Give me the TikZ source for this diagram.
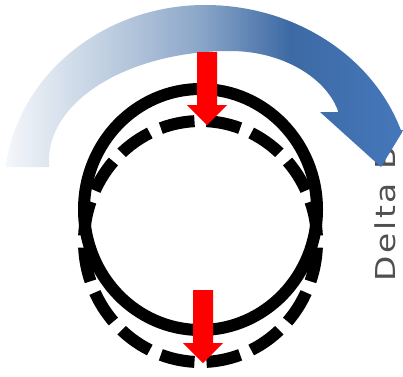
\documentclass[tikz,border=0pt]{standalone}
\usepackage{fontspec}
\newfontfamily\deltafont{DejaVu Sans}[FakeStretch=1.2, LetterSpace=10]
\definecolor{arcA}{HTML}{F7F9FC}
\definecolor{arcB}{HTML}{B3C5DB}
\definecolor{arcC}{HTML}{8BA6C8}
\definecolor{arcD}{HTML}{3D6AA4}
\definecolor{arcE}{HTML}{4679BE}
\definecolor{textgray}{HTML}{505050}
\pgfdeclarehorizontalshading{bluearc}{100bp}{color(0bp)=(arcA); color(25bp)=(arcA); color(40.5bp)=(arcB); color(48.8bp)=(arcC); color(59.5bp)=(arcD); color(75bp)=(arcE); color(100bp)=(arcE)}
\begin{document}
\begin{tikzpicture}[x=1pt,y=-1pt,
  ring/.style={line width=12pt, draw=black},
  redarrow/.style={fill=red, draw=none},
  lbl/.style={rotate=90, anchor=base west, inner sep=0pt, text=textgray,
              font=\deltafont\fontsize{27.4}{30}\selectfont}]
\useasboundingbox (0,0) rectangle (403,376);
\clip (0,0) rectangle (403,376);
% label (partly hidden by arrow head)
\node[lbl] (label) at (395,282) {Delta B};
% solid and dashed rings
\draw[ring] (200.5,209.5) circle[x radius=116.5pt, y radius=120.5pt];
\draw[ring, dash pattern=on 34.5pt off 12.04pt, dash phase=40.52pt]
  (200.5,241.5) circle[x radius=116.5pt, y radius=120.5pt];
% curved gradient arrow
\begin{scope}
\clip (5.6,167)
  arc[start angle=172.86, end angle=90, x radius=201pt, y radius=185pt]
  arc[start angle=90, end angle=18.9, x radius=207pt, y radius=185pt]
  -- (403.5,130) -- (381,167) -- (320,112) -- (338.3,112)
  .. controls (328,80) and (285,51) .. (230,51)
  arc[start angle=90, end angle=183.68, x radius=181pt, y radius=109pt]
  -- cycle;
\shade[shading=bluearc] (0,0) rectangle (420,170);
\end{scope}
% red arrows
\fill[redarrow] (197,52) -- (217,52) -- (217,105) -- (227,105) -- (207,125) -- (187,105) -- (197,105) -- cycle;
\fill[redarrow] (193,290) -- (213,290) -- (213,343) -- (223,343) -- (203,363) -- (183,343) -- (193,343) -- cycle;
\end{tikzpicture}
\end{document}
